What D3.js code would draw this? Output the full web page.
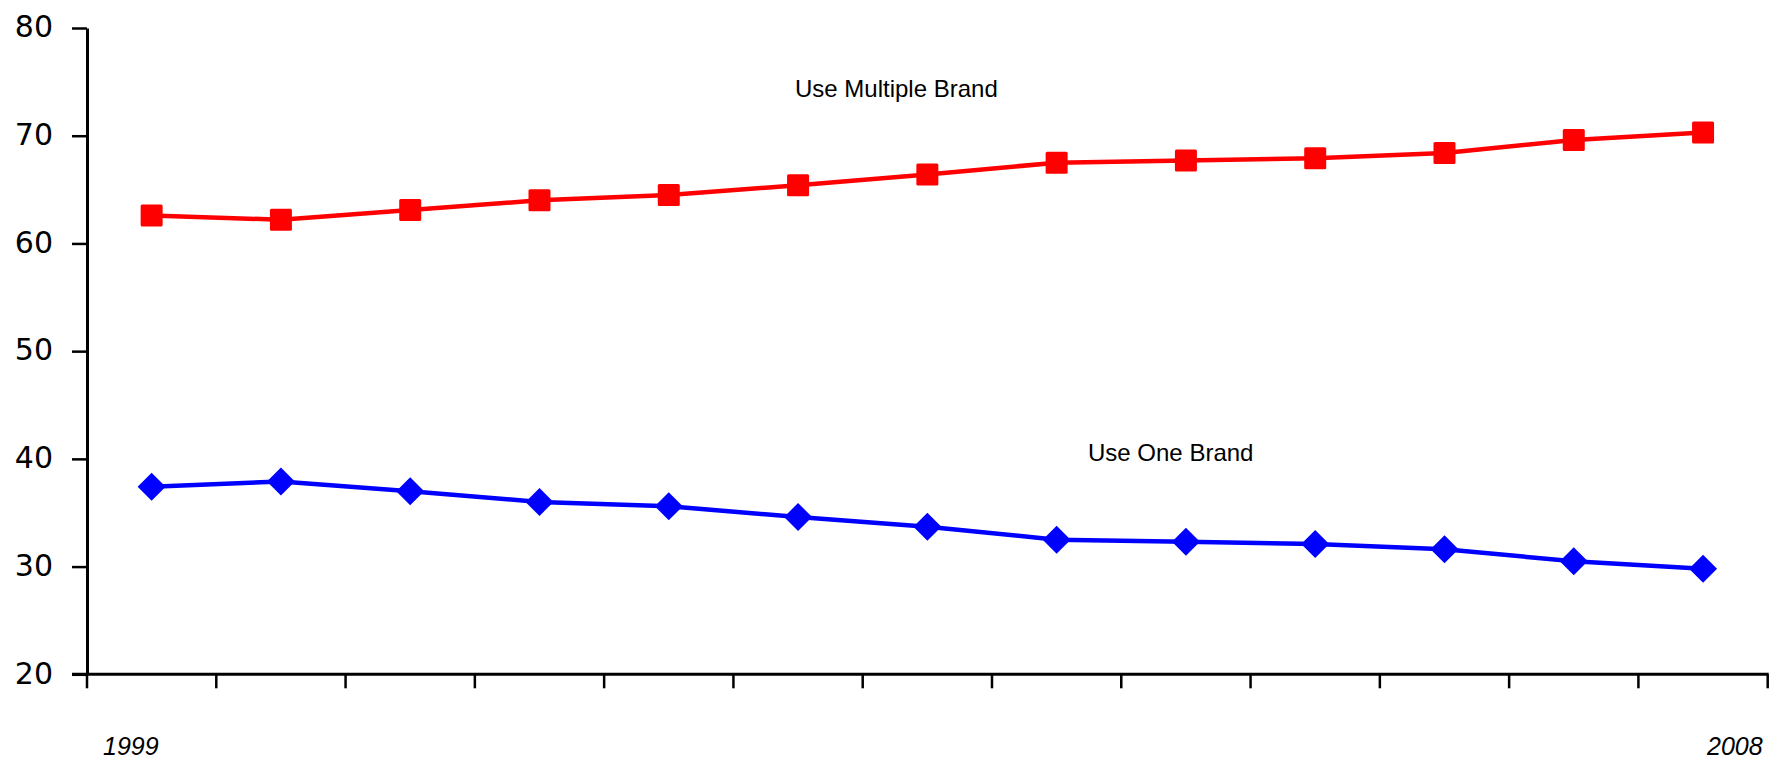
<!DOCTYPE html>
<html>
<head>
<meta charset="utf-8">
<script src="https://cdn.jsdelivr.net/npm/d3@7/dist/d3.min.js"></script>
<style>
  html, body { margin: 0; padding: 0; background: #fff; }
  svg { display: block; }
</style>
</head>
<body>
<svg id="chart" width="1775" height="762"></svg>
<script>
// ---- data ----
const categories = ["W1","W2","W3","W4","W5","W6","W7","W8","W9","W10","W11","W12","W13"];
const multipleBrand = [62.6, 62.2, 63.1, 64.0, 64.5, 65.4, 66.4, 67.5, 67.7, 67.9, 68.4, 69.6, 70.3];
const oneBrand      = [37.4, 37.9, 37.0, 36.0, 35.6, 34.6, 33.7, 32.5, 32.3, 32.1, 31.6, 30.5, 29.8];
const yTicks = [20, 30, 40, 50, 60, 70, 80];
const periodLabels = ["1999", "2008"];
const seriesNames = ["Use Multiple Brand", "Use One Brand"];

(function () {
// ---- layout ----
const svg = d3.select("#chart");
const mLeft = 87, mRight = 1767.7, mTop = 28, mBottom = 674.3;

const x = d3.scaleBand().domain(categories).range([mLeft, mRight]).padding(0);
const y = d3.scaleLinear().domain([20, 80]).range([mBottom, mTop]);

// y axis
const yAxis = d3.axisLeft(y).tickValues(yTicks).tickSize(15).tickPadding(19).tickSizeOuter(0);
const gy = svg.append("g").attr("transform", `translate(${mLeft},0)`).call(yAxis);
gy.select(".domain").attr("stroke", "#000").attr("stroke-width", 3);
gy.selectAll(".tick line").attr("stroke", "#000").attr("stroke-width", 2.5);
gy.selectAll(".tick text")
  .attr("font-family", "DejaVu Sans, sans-serif")
  .attr("font-size", 30)
  .attr("fill", "#000")
  .attr("dy", "0.29em");

// x axis: ticks at band boundaries
const boundaries = categories.map(c => x(c)).concat([x.range()[1]]);
const gx = svg.append("g");
gx.append("line")
  .attr("x1", mLeft - 15).attr("x2", mRight + 1)
  .attr("y1", mBottom).attr("y2", mBottom)
  .attr("stroke", "#000").attr("stroke-width", 3);
gx.selectAll("line.t").data(boundaries).join("line")
  .attr("class", "t")
  .attr("x1", d => d).attr("x2", d => d)
  .attr("y1", mBottom).attr("y2", mBottom + 14)
  .attr("stroke", "#000").attr("stroke-width", 2.5);

// period labels at the ends
svg.append("text")
  .attr("x", x(categories[0]) + 16).attr("y", 755)
  .attr("font-family", "Liberation Sans, Arial, sans-serif")
  .attr("font-style", "italic").attr("font-size", 25)
  .attr("text-anchor", "start")
  .text(periodLabels[0]);
svg.append("text")
  .attr("x", x.range()[1] - 5).attr("y", 755)
  .attr("font-family", "Liberation Sans, Arial, sans-serif")
  .attr("font-style", "italic").attr("font-size", 25)
  .attr("text-anchor", "end")
  .text(periodLabels[1]);

// lines
const cx = (d, i) => x(categories[i]) + x.bandwidth() / 2;
const line = d3.line().x(cx).y(d => y(d));

svg.append("path").datum(multipleBrand)
  .attr("d", line).attr("fill", "none")
  .attr("stroke", "#ff0000").attr("stroke-width", 4.5);
svg.append("path").datum(oneBrand)
  .attr("d", line).attr("fill", "none")
  .attr("stroke", "#0000ff").attr("stroke-width", 4.5);

// markers
const sq = 22;
svg.selectAll("rect.m").data(multipleBrand).join("rect")
  .attr("class", "m")
  .attr("x", (d, i) => cx(d, i) - sq / 2)
  .attr("y", d => y(d) - sq / 2)
  .attr("width", sq).attr("height", sq)
  .attr("rx", 1.5)
  .attr("fill", "#ff0000");

const dh = 14;
svg.selectAll("path.m").data(oneBrand).join("path")
  .attr("class", "m")
  .attr("d", (d, i) => {
    const px = cx(d, i), py = y(d);
    return `M${px},${py - dh}L${px + dh},${py}L${px},${py + dh}L${px - dh},${py}Z`;
  })
  .attr("fill", "#0000ff");

// series labels
svg.append("text")
  .attr("x", 795).attr("y", 97)
  .attr("font-family", "Liberation Sans, Arial, sans-serif")
  .attr("font-size", 24).attr("fill", "#000")
  .text(seriesNames[0]);
svg.append("text")
  .attr("x", 1088).attr("y", 461)
  .attr("font-family", "Liberation Sans, Arial, sans-serif")
  .attr("font-size", 24).attr("fill", "#000")
  .text(seriesNames[1]);
})();
</script>
</body>
</html>
